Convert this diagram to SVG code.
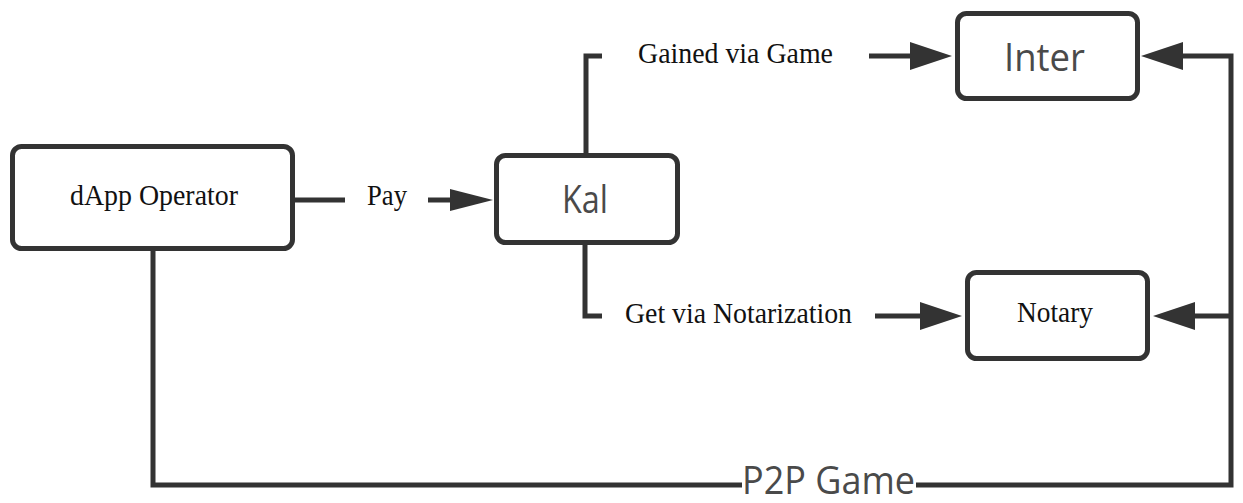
<svg xmlns="http://www.w3.org/2000/svg" width="1243" height="503" viewBox="0 0 1243 503">
<style>
.box{fill:#fff;stroke:#333;stroke-width:5;}
.ln{fill:none;stroke:#333;stroke-width:5;stroke-linejoin:miter;stroke-linecap:butt;}
.serif{font-family:"Liberation Serif","Times New Roman",serif;font-size:29px;fill:#111;}
.sans{font-family:"Open Sans","Noto Sans","DejaVu Sans",sans-serif;font-size:38px;fill:#4a4a4a;}
</style>
<defs>
<marker id="ah" markerUnits="userSpaceOnUse" markerWidth="44" markerHeight="30" refX="0" refY="14" orient="auto">
<path d="M0,0 L42,14 L0,28 Z" fill="#333"/>
</marker>
<marker id="ahs" markerUnits="userSpaceOnUse" markerWidth="44" markerHeight="24" refX="0" refY="11" orient="auto">
<path d="M0,0 L43,11 L0,22 Z" fill="#333"/>
</marker>
</defs>
<rect width="1243" height="503" fill="#fff"/>
<g id="connectors">
<path class="ln" d="M295,200 H345"/>
<path class="ln" d="M428,200 H450" marker-end="url(#ahs)"/>
<path class="ln" d="M586,153 V56 H602"/>
<path class="ln" d="M869,56 H910" marker-end="url(#ah)"/>
<path class="ln" d="M585,245 V316 H602"/>
<path class="ln" d="M875,316 H920" marker-end="url(#ah)"/>
<path class="ln" d="M153,251 V485 H742"/>
<path class="ln" d="M916,485 H1231 V56 H1183" marker-end="url(#ah)"/>
<path class="ln" d="M1231,316 H1195" marker-end="url(#ah)"/>
<text class="serif" x="367" y="205" textLength="40" lengthAdjust="spacingAndGlyphs">Pay</text>
<text class="serif" x="638" y="63" textLength="195" lengthAdjust="spacingAndGlyphs">Gained via Game</text>
<text class="serif" x="625" y="323" textLength="227" lengthAdjust="spacingAndGlyphs">Get via Notarization</text>
<text class="sans" x="742" y="494" font-size="32" textLength="173" lengthAdjust="spacingAndGlyphs">P2P Game</text>
</g>
<g id="dapp">
<rect class="box" x="12.5" y="146.5" width="280" height="102" rx="9"/>
<text class="serif" x="70" y="205" textLength="168" lengthAdjust="spacingAndGlyphs">dApp Operator</text>
</g>
<g id="kal">
<rect class="box" x="496.5" y="155.5" width="181" height="87" rx="9"/>
<text class="sans" x="562" y="213" textLength="46" lengthAdjust="spacingAndGlyphs">Kal</text>
</g>
<g id="inter">
<rect class="box" x="957.5" y="13.5" width="180" height="85" rx="9"/>
<text class="sans" x="1004" y="71" textLength="81" lengthAdjust="spacingAndGlyphs">Inter</text>
</g>
<g id="notary">
<rect class="box" x="967.5" y="272.5" width="180" height="86" rx="9"/>
<text class="serif" x="1017" y="322" textLength="76" lengthAdjust="spacingAndGlyphs">Notary</text>
</g>
</svg>
